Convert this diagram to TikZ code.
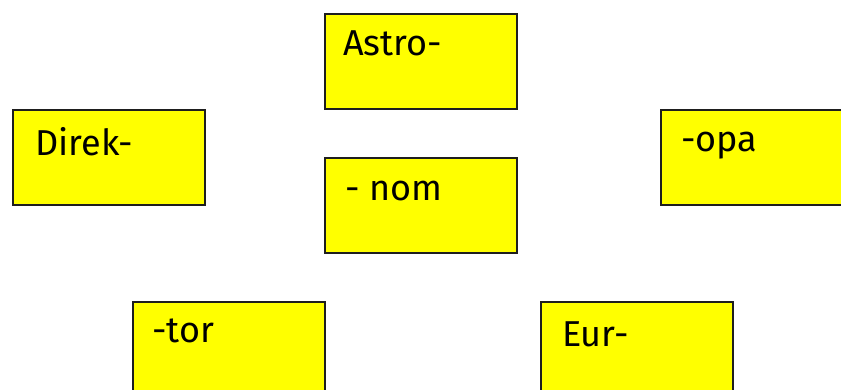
\documentclass[tikz,border=0pt]{standalone}
\usepackage{fontspec}
\setmainfont{Fira Sans}
\definecolor{cardyellow}{RGB}{255,255,0}
\definecolor{cardline}{RGB}{30,30,30}
\begin{document}
\begin{tikzpicture}[x=1pt,y=-1pt,
  card/.style={draw=cardline,line width=2pt,fill=cardyellow,rectangle,minimum width=192pt,minimum height=95pt,inner sep=0pt,anchor=north west},
  word/.style={anchor=base west,inner sep=0pt,font=\fontsize{36}{40}\selectfont}]
\useasboundingbox (0,0) rectangle (841,389);
\clip (0,0) rectangle (841,389);
\node[card] (astro) at (324,13) {};
\node[card] (direk) at (12,108.5) {};
\node[card] (opa) at (660,108.5) {};
\node[card] (nom) at (324,157) {};
\node[card] (tor) at (132,300.5) {};
\node[card] (eur) at (540,300.5) {};
\node[word] (tastro) at (343,55) {Astro-};
\node[word] (tdirek) at (35,155) {Direk-};
\node[word] (topa) at (681,151) {-opa};
\node[word] (tnom) at (345,200) {- nom};
\node[word] (ttor) at (152,342) {-tor};
\node[word] (teur) at (562,346) {Eur-};
\end{tikzpicture}
\end{document}
